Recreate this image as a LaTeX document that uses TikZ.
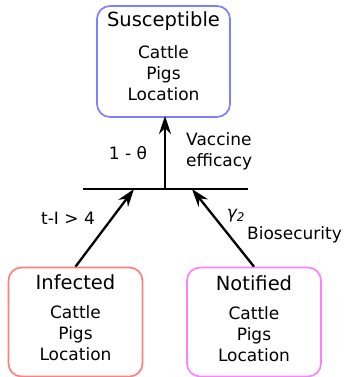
\documentclass[tikz,border=0pt]{standalone}
\usepackage{fontspec}
\setmainfont{DejaVu Sans}
\usetikzlibrary{arrows.meta}
\definecolor{susc}{HTML}{8080FF}
\definecolor{infc}{HTML}{FF8080}
\definecolor{notc}{HTML}{FF80FF}
\begin{document}
\begin{tikzpicture}[x=1pt,y=-1pt,
  box/.style={draw, line width=1.7pt, rounded corners=13pt, inner sep=0pt},
  ttl/.style={font=\fontsize{19.5}{20}\selectfont, inner sep=0pt},
  bod/.style={font=\fontsize{17}{21}\selectfont, align=center, inner sep=0pt},
  lbl/.style={font=\fontsize{17}{21}\selectfont, align=left, inner sep=0pt},
  arr/.style={line width=2.3pt, -{Stealth[length=18pt,width=12pt,inset=6pt]}}]
\useasboundingbox (0,0) rectangle (343,377);
% boxes
\node[box, susc, minimum width=133pt, minimum height=111pt] (sus) at (163.5,61.5) {};
\node[box, infc, minimum width=134pt, minimum height=109pt] (inf) at (75.5,322) {};
\node[box, notc, minimum width=134pt, minimum height=109pt] (not) at (254,322) {};
% texts
\node[ttl] (sust) at (163.5,21) {Susceptible};
\node[bod] (susb) at (163.5,73) {Cattle\\Pigs\\Location};
\node[ttl] (inft) at (75.5,282) {Infected};
\node[bod] (infb) at (75.5,333) {Cattle\\Pigs\\Location};
\node[ttl] (nott) at (254,283) {Notified};
\node[bod] (notb) at (254,334) {Cattle\\Pigs\\Location};
% junction line
\coordinate (jl) at (83,189);
\coordinate (jr) at (248,189);
\coordinate (jm) at (165,189);
\coordinate (ja) at (134,189);
\coordinate (jb) at (192,189);
\coordinate (st) at (165,116);
\draw[line width=2.3pt] (jl) -- (jr);
\draw[arr] (jm) -- (st);
\draw[arr] (inf.north) -- (ja);
\draw[arr] (not.north) -- (jb);
% labels
\node[lbl] (theta) at (128,153) {1 - θ};
\node[lbl, anchor=west] (vac) at (186,151) {Vaccine\\efficacy};
\node[lbl] (tl) at (68,218) {t-I > 4};
\node[lbl] (gam) at (236,216) {\itshape γ\textsubscript{2}};
\node[lbl, anchor=west] (bio) at (247,235) {Biosecurity};
\end{tikzpicture}
\end{document}
